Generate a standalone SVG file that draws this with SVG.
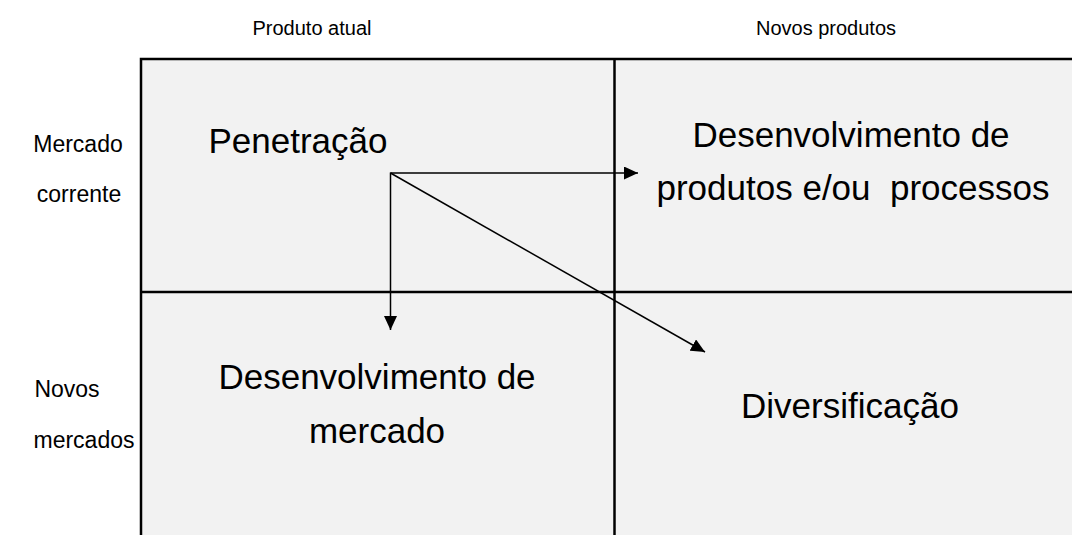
<svg xmlns="http://www.w3.org/2000/svg" width="1072" height="535" viewBox="0 0 1072 535">
  <defs>
    <marker id="arrow" markerUnits="userSpaceOnUse" markerWidth="14" markerHeight="13" refX="14" refY="6.5" orient="auto" viewBox="0 0 14 13">
      <path d="M0,0 L14,6.5 L0,13 z" fill="#000"/>
    </marker>
    <style>
      .top { font-family: "Liberation Sans", Arial, sans-serif; font-size: 20px; fill: #000; text-anchor: middle; }
      .lbl { font-family: "Liberation Sans", Arial, sans-serif; font-size: 23px; fill: #000; text-anchor: middle; }
      .big { font-family: "Liberation Sans", Arial, sans-serif; font-size: 35px; fill: #000; text-anchor: middle; }
      .cell { fill: #F2F2F2; stroke: #000; stroke-width: 2.5; }
      .grid { fill: none; stroke: #000; stroke-width: 2.5; }
      .conn { stroke: #000; stroke-width: 1.5; fill: none; marker-end: url(#arrow); }
    </style>
  </defs>
  <rect x="0" y="0" width="1072" height="535" fill="#fff"/>
  <g id="headers">
    <text class="top" x="312" y="35">Produto atual</text>
    <text class="top" x="826" y="35">Novos produtos</text>
    <text class="lbl" x="78" y="152">Mercado</text>
    <text class="lbl" x="79" y="202">corrente</text>
    <text class="lbl" x="67" y="397">Novos</text>
    <text class="lbl" x="84" y="448">mercados</text>
  </g>
  <g id="grid">
    <rect class="cell" x="141" y="59" width="940" height="490"/>
    <line class="grid" x1="614.5" y1="59" x2="614.5" y2="540"/>
    <line class="grid" x1="141" y1="292" x2="1080" y2="292"/>
  </g>
  <g id="penetracao">
    <text class="big" x="298" y="153">Penetração</text>
  </g>
  <g id="desenvolvimento-produtos">
    <text class="big" x="851" y="147">Desenvolvimento de</text>
    <text class="big" x="853" y="200" xml:space="preserve">produtos e/ou  processos</text>
  </g>
  <g id="desenvolvimento-mercado">
    <text class="big" x="377" y="389">Desenvolvimento de</text>
    <text class="big" x="377" y="443">mercado</text>
  </g>
  <g id="diversificacao">
    <text class="big" x="850" y="418">Diversificação</text>
  </g>
  <g id="connectors">
    <line class="conn" x1="390.5" y1="173" x2="638" y2="173"/>
    <line class="conn" x1="390.5" y1="172.5" x2="390.5" y2="330"/>
    <line class="conn" x1="390.5" y1="173" x2="705" y2="352"/>
  </g>
</svg>
